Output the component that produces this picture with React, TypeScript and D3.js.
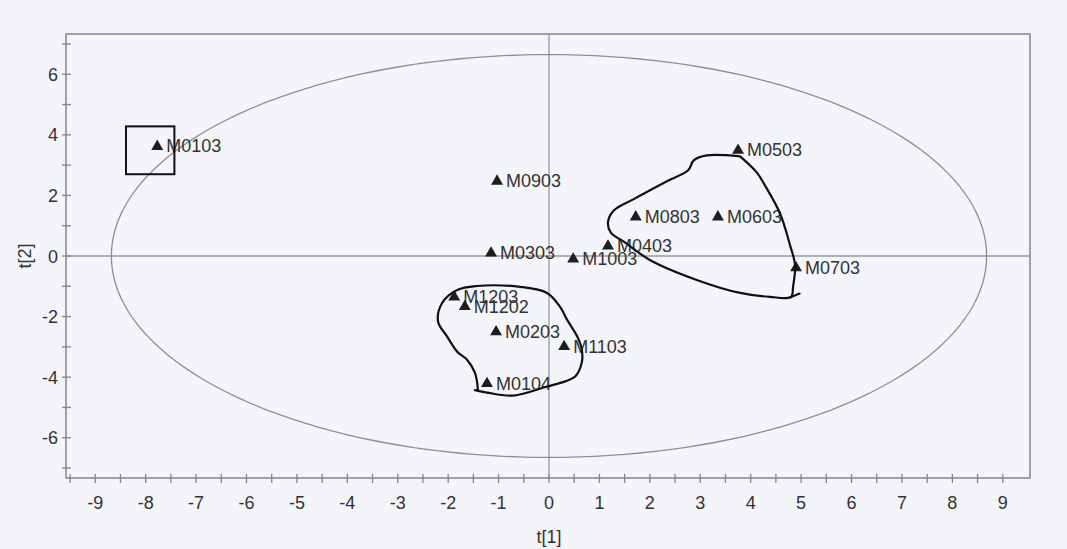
import React from "react";
import * as d3 from "d3";

const pointNames = ["M0103", "M0903", "M0303", "M1003", "M0403", "M0803", "M0603", "M0503", "M0703", "M1203", "M1202", "M0203", "M1103", "M0104"];
const t1Values = [-7.77, -1.03, -1.15, 0.48, 1.17, 1.72, 3.35, 3.75, 4.9, -1.88, -1.67, -1.05, 0.3, -1.23];
const t2Values = [3.65, 2.5, 0.13, -0.07, 0.36, 1.32, 1.32, 3.52, -0.36, -1.32, -1.64, -2.47, -2.96, -4.18];

const xTickValues = [-9, -8, -7, -6, -5, -4, -3, -2, -1, 0, 1, 2, 3, 4, 5, 6, 7, 8, 9];
const xMinorTicks = [-9.5, -8.5, -7.5, -6.5, -5.5, -4.5, -3.5, -2.5, -1.5, -0.5, 0.5, 1.5, 2.5, 3.5, 4.5, 5.5, 6.5, 7.5, 8.5];
const yTickValues = [-6, -4, -2, 0, 2, 4, 6];
const yMinorTicks = [-7, -5, -3, -1, 1, 3, 5, 7];

// Hotelling ellipse semi-axes
const ellipseA = 8.68;
const ellipseB = 6.65;

// hand-drawn annotations (data units)
const boxCorners = [[-8.39, 4.28], [-7.43, 2.7]];
const rightLoop = [
  [3.79, 3.29], [4.12, 2.76], [4.28, 2.34], [4.58, 1.41], [4.78, 0.36], [4.88, -0.3], [4.84, -1.02], [4.8, -1.35],
  [4.38, -1.35], [3.79, -1.22], [2.93, -0.79], [2.0, -0.13], [1.47, 0.49], [1.23, 0.76], [1.17, 1.12], [1.29, 1.51],
  [1.67, 1.87], [2.34, 2.47], [2.76, 2.83], [2.87, 3.16], [3.13, 3.32], [3.79, 3.29],
];
const rightFlick = [[4.78, -1.37], [4.97, -1.24]];
const leftLoop = [
  [-1.41, -4.41], [-1.47, -3.85], [-1.63, -3.42], [-1.82, -3.16], [-2.02, -2.66], [-2.2, -2.17], [-2.12, -1.55],
  [-1.82, -1.12], [-1.43, -0.99], [-0.57, -1.02], [-0.04, -1.22], [0.22, -1.68], [0.36, -2.11], [0.56, -2.66],
  [0.65, -3.09], [0.65, -3.52], [0.52, -3.98], [0.32, -4.14], [-0.04, -4.31], [-0.71, -4.61], [-1.23, -4.51], [-1.47, -4.43],
];

const W = 1067;
const H = 549;
const left = 66, right = 1030, top = 34, bottom = 478;

export default function App() {
  const x = d3.scaleLinear().domain([-9.58, 9.54]).range([left, right]);
  const y = d3.scaleLinear().domain([-7.33, 7.33]).range([bottom, top]);
  const axisColor = "#858585";
  const textColor = "#333";
  const font = "'Liberation Sans', Arial, sans-serif";

  const ellipsePts = d3.range(0, 361, 2).map((deg) => {
    const r = (deg * Math.PI) / 180;
    return [ellipseA * Math.cos(r), ellipseB * Math.sin(r)] as [number, number];
  });
  const line = d3.line<number[]>().x((d) => x(d[0])).y((d) => y(d[1]));
  const handLine = d3.line<number[]>().x((d) => x(d[0])).y((d) => y(d[1])).curve(d3.curveCatmullRom.alpha(0.5));
  const tri = d3.symbol().type(d3.symbolTriangle).size(62)();

  return (
    <svg width={W} height={H} style={{ position: "absolute", left: 0, top: 0, display: "block" }} fontFamily={font}>
      <rect x={0} y={0} width={W} height={H} fill="#f3f5f9" />
      {/* zero lines */}
      <line x1={x(0)} x2={x(0)} y1={top} y2={bottom} stroke="#9a9a9a" strokeWidth={1.3} />
      <line x1={left} x2={right} y1={y(0)} y2={y(0)} stroke="#9a9a9a" strokeWidth={1.3} />
      {/* ellipse */}
      <path d={line(ellipsePts) || ""} fill="none" stroke="#8f8f8f" strokeWidth={1.3} />
      {/* frame */}
      <rect x={left} y={top} width={right - left} height={bottom - top} fill="none" stroke={axisColor} strokeWidth={1.5} />
      {/* x ticks */}
      {xTickValues.concat(xMinorTicks).map((v) => (
        <line key={"xt" + v} x1={x(v)} x2={x(v)} y1={bottom - 4} y2={bottom + 5} stroke={axisColor} strokeWidth={1.3} />
      ))}
      {xTickValues.map((v) => (
        <text key={"xl" + v} x={x(v)} y={bottom + 31} textAnchor="middle" fontSize={18} fill={textColor}>{v}</text>
      ))}
      {/* y ticks */}
      {yTickValues.concat(yMinorTicks).map((v) => (
        <line key={"yt" + v} x1={left - 4} x2={left + 5} y1={y(v)} y2={y(v)} stroke={axisColor} strokeWidth={1.3} />
      ))}
      {yTickValues.map((v) => (
        <text key={"yl" + v} x={left - 8} y={y(v) + 6.5} textAnchor="end" fontSize={18} fill={textColor}>{v}</text>
      ))}
      {/* axis titles */}
      <text x={x(0)} y={543} textAnchor="middle" fontSize={18} fill={textColor}>t[1]</text>
      <text transform={`translate(${31},${y(0)}) rotate(-90)`} textAnchor="middle" fontSize={18} fill={textColor}>t[2]</text>
      {/* points */}
      {pointNames.map((name, i) => (
        <g key={name} transform={`translate(${x(t1Values[i])},${y(t2Values[i])})`}>
          <path d={tri || ""} fill="#1e1e1e" transform="translate(0,1)" />
          <text x={9} y={7} fontSize={18} fill={textColor}>{name}</text>
        </g>
      ))}
      {/* annotations */}
      <rect
        x={x(boxCorners[0][0])}
        y={y(boxCorners[0][1])}
        width={x(boxCorners[1][0]) - x(boxCorners[0][0])}
        height={y(boxCorners[1][1]) - y(boxCorners[0][1])}
        fill="none"
        stroke="#111"
        strokeWidth={2}
      />
      <path d={handLine(rightLoop) || ""} fill="none" stroke="#111" strokeWidth={2.2} strokeLinejoin="round" strokeLinecap="round" />
      <path d={line(rightFlick) || ""} fill="none" stroke="#111" strokeWidth={2.2} strokeLinecap="round" />
      <path d={handLine(leftLoop) || ""} fill="none" stroke="#111" strokeWidth={2.2} strokeLinejoin="round" strokeLinecap="round" />
    </svg>
  );
}
